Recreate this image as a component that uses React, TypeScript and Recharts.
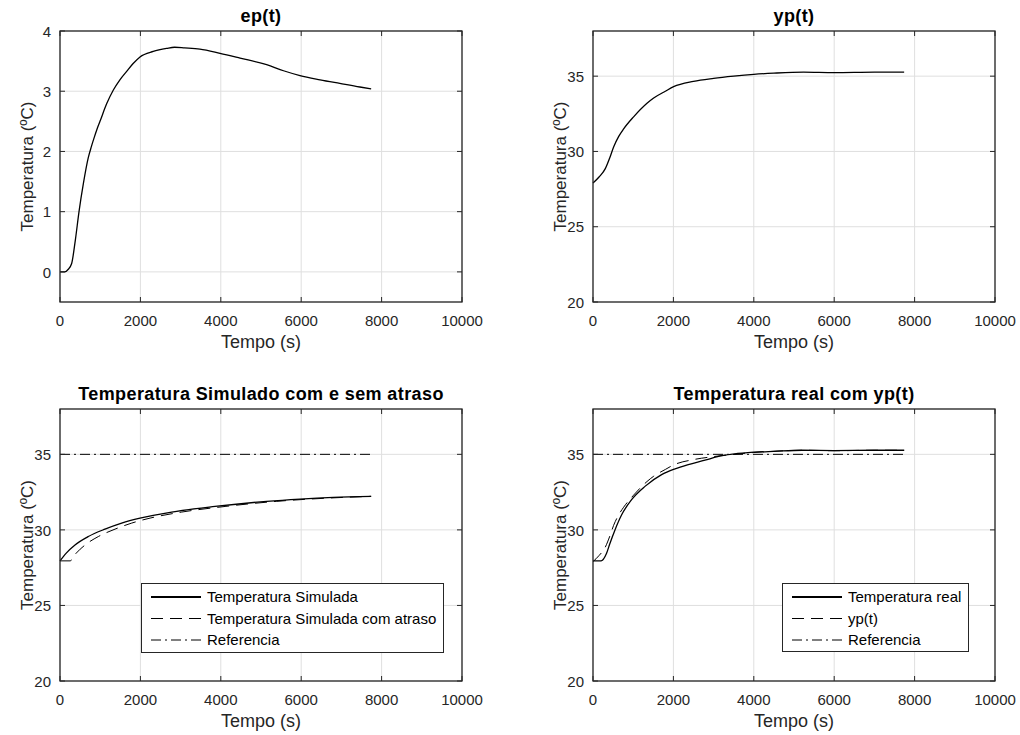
import React from 'react';
import { LineChart, Line, XAxis, YAxis, CartesianGrid, Legend } from 'recharts';

// eixos
const tickTempo = [0, 2000, 4000, 6000, 8000, 10000];
const tickEp = [0, 1, 2, 3, 4];
const tickTemp = [20, 25, 30, 35];

// ep(t)
const epTempo = [0, 120, 200, 290, 380, 473, 580, 705, 780, 850, 920, 995, 1160, 1327, 1490, 1658, 1820, 1990, 2320, 2650, 2850, 3100, 3480, 3980, 4480, 5140, 5560, 5970, 6470, 6960, 7460, 7740];
const epValor = [0, 0, 0.04, 0.14, 0.52, 1.0, 1.46, 1.9, 2.08, 2.23, 2.37, 2.5, 2.79, 3.02, 3.19, 3.33, 3.46, 3.57, 3.66, 3.71, 3.73, 3.72, 3.7, 3.63, 3.55, 3.44, 3.34, 3.26, 3.19, 3.13, 3.07, 3.04];

// yp(t)
const ypTempo = [0, 150, 306, 420, 513, 640, 762, 1010, 1343, 1509, 1800, 2006, 2500, 3000, 3500, 4000, 4500, 5240, 6000, 7000, 7740];
const ypValor = [27.9, 28.3, 28.86, 29.6, 30.3, 31.0, 31.5, 32.3, 33.2, 33.55, 34.0, 34.3, 34.65, 34.85, 35.0, 35.12, 35.2, 35.27, 35.24, 35.27, 35.27];

// temperatura simulada
const simTempo = [0, 150, 373, 704, 1119, 1534, 1990, 2778, 3856, 5141, 5970, 6799, 7740];
const simValor = [27.95, 28.45, 29.0, 29.56, 30.05, 30.45, 30.78, 31.18, 31.55, 31.89, 32.04, 32.15, 32.22];

// temperatura simulada com atraso
const atrasoTempo = [0, 250, 400, 623, 954, 1369, 1784, 2240, 3028, 4106, 5391, 6220, 7049, 7740];
const atrasoValor = [27.95, 27.95, 28.45, 29.0, 29.56, 30.05, 30.45, 30.78, 31.18, 31.55, 31.89, 32.04, 32.15, 32.22];

// temperatura real
const realTempo = [0, 200, 338, 423, 547, 713, 960, 1293, 1707, 2040, 2371, 2786, 3100, 3500, 4000, 4500, 5200, 6000, 7000, 7740];
const realValor = [27.95, 27.95, 28.46, 29.12, 30.0, 31.0, 32.0, 32.88, 33.66, 34.04, 34.32, 34.61, 34.85, 35.02, 35.14, 35.2, 35.27, 35.25, 35.27, 35.27];

// referencia
const refTempo = [0, 7740];
const refValor = [35, 35];

const FONT = '"Liberation Sans", Arial, Helvetica, sans-serif';
const AXIS = '#262626';
const GRID = '#dfdfdf';
const TRACO = '12 7';
const TRACO_PONTO = '10 4 2 4';
const TICK = 5;

const pares = (t: number[], v: number[]) => t.map((x, i) => ({ t: x, v: v[i] }));

type Serie = { name: string; data: { t: number; v: number }[]; dash?: string; linear?: boolean };

// tick do eixo x: rotulo + marcas para dentro em baixo e em cima
const XTick = ({ x, y, payload, plotH }: any) => (
  <g>
    <line x1={x} x2={x} y1={y} y2={y - TICK} stroke={AXIS} />
    <line x1={x} x2={x} y1={y - plotH} y2={y - plotH + TICK} stroke={AXIS} />
    <text x={x} y={y + 24} textAnchor="middle" fontSize={15} fill={AXIS}>{payload.value}</text>
  </g>
);

const YTick = ({ x, y, payload, plotW }: any) => (
  <g>
    <line x1={x} x2={x + TICK} y1={y} y2={y} stroke={AXIS} />
    <line x1={x + plotW} x2={x + plotW - TICK} y1={y} y2={y} stroke={AXIS} />
    <text x={x - 9} y={y} dy="0.38em" textAnchor="end" fontSize={15} fill={AXIS}>{payload.value}</text>
  </g>
);

// rotulo y + titulo + moldura
const Moldura = ({ viewBox, plotW, title }: any) => {
  const px = viewBox.x + viewBox.width;
  const lx = px - 27;
  const ly = viewBox.y + viewBox.height / 2;
  return (
    <g>
      <rect x={px} y={viewBox.y} width={plotW} height={viewBox.height} fill="none" stroke={AXIS} strokeWidth={1.3} />
      <text x={lx} y={ly} transform={`rotate(-90 ${lx} ${ly})`} textAnchor="middle" fontSize={17} fill={AXIS}>
        Temperatura (ºC)
      </text>
      <text x={px + plotW / 2} y={viewBox.y - 9} textAnchor="middle" fontSize={18} fontWeight="bold" letterSpacing={0.4} fill="#000">
        {title}
      </text>
    </g>
  );
};

const XLabel = (props: any) => {
  const vb = props.viewBox || props;
  return (
    <text x={vb.x + vb.width / 2} y={vb.y + 46} textAnchor="middle" fontSize={18} fill={AXIS}>
      Tempo (s)
    </text>
  );
};

const LegendBox = ({ series, width, height }: { series: Serie[]; width: number; height: number }) => (
  <svg width={width} height={height} style={{ display: 'block' }}>
    <rect x={0.5} y={0.5} width={width - 1} height={height - 1} fill="#fff" stroke={AXIS} />
    {series.map((s, i) => {
      const y = 14 + i * 21.5;
      return (
        <g key={s.name}>
          <line x1={10} x2={60} y1={y} y2={y} stroke="#000" strokeWidth={s.dash ? 1 : 2} strokeDasharray={s.dash} />
          <text x={66} y={y} dy="0.35em" fontSize={15} fill="#000">{s.name}</text>
        </g>
      );
    })}
  </svg>
);

interface PainelProps {
  left: number;
  top: number;
  width: number;
  height: number;
  plotLeft: number;
  plotRight: number;
  plotTop: number;
  plotBottom: number;
  title: string;
  yDomain: number[];
  yTicks: number[];
  series: Serie[];
  legend?: { left: number; top: number; width: number; height: number };
}

const Painel = (p: PainelProps) => {
  const axisH = 50;
  const plotW = p.plotRight - p.plotLeft;
  const plotH = p.plotBottom - p.plotTop;
  const margin = { top: p.plotTop, left: 0, right: p.width - p.plotRight, bottom: p.height - p.plotBottom - axisH };
  return (
    <div style={{ position: 'absolute', left: p.left, top: p.top }}>
      <LineChart width={p.width} height={p.height} margin={margin}>
        <CartesianGrid stroke={GRID} strokeWidth={1} />
        <XAxis
          type="number"
          dataKey="t"
          domain={[0, 10000]}
          ticks={tickTempo}
          interval={0}
          height={axisH}
          tickSize={0}
          tickMargin={0}
          axisLine={false}
          tickLine={false}
          tick={(tp: any) => <XTick {...tp} plotH={plotH} />}
          label={{ content: (lp: any) => <XLabel {...lp} /> }}
        />
        <YAxis
          type="number"
          domain={p.yDomain}
          ticks={p.yTicks}
          interval={0}
          width={p.plotLeft}
          tickSize={0}
          tickMargin={0}
          axisLine={false}
          tickLine={false}
          tick={(tp: any) => <YTick {...tp} plotW={plotW} />}
          label={{ content: (lp: any) => <Moldura viewBox={lp.viewBox || lp} plotW={plotW} title={p.title} /> }}
        />
        {p.series.map((s) => (
          <Line
            key={s.name}
            name={s.name}
            data={s.data}
            dataKey="v"
            type={s.linear ? 'linear' : 'monotone'}
            stroke="#000"
            strokeWidth={s.dash ? 1 : 1.3}
            strokeDasharray={s.dash}
            dot={false}
            isAnimationActive={false}
          />
        ))}
        {p.legend && (
          <Legend
            layout="vertical"
            align="center"
            verticalAlign="middle"
            wrapperStyle={{ left: p.legend.left, top: p.legend.top, width: p.legend.width, height: p.legend.height }}
            content={() => <LegendBox series={p.series} width={p.legend!.width} height={p.legend!.height} />}
          />
        )}
      </LineChart>
    </div>
  );
};

export default function App() {
  const ep: Serie[] = [{ name: 'ep(t)', data: pares(epTempo, epValor) }];
  const yp: Serie[] = [{ name: 'yp(t)', data: pares(ypTempo, ypValor) }];
  const simulado: Serie[] = [
    { name: 'Temperatura Simulada', data: pares(simTempo, simValor) },
    { name: 'Temperatura Simulada com atraso', data: pares(atrasoTempo, atrasoValor), dash: TRACO },
    { name: 'Referencia', data: pares(refTempo, refValor), dash: TRACO_PONTO, linear: true },
  ];
  const real: Serie[] = [
    { name: 'Temperatura real', data: pares(realTempo, realValor) },
    { name: 'yp(t)', data: pares(ypTempo, ypValor), dash: TRACO },
    { name: 'Referencia', data: pares(refTempo, refValor), dash: TRACO_PONTO, linear: true },
  ];

  return (
    <div style={{ position: 'absolute', left: 0, top: 0, width: 1020, height: 735, background: '#fff', fontFamily: FONT }}>
      <Painel left={0} top={0} width={510} height={367} plotLeft={60} plotRight={462} plotTop={31} plotBottom={302}
        title="ep(t)" yDomain={[-0.5, 4]} yTicks={tickEp} series={ep} />
      <Painel left={510} top={0} width={510} height={367} plotLeft={83} plotRight={485} plotTop={31} plotBottom={302}
        title="yp(t)" yDomain={[20, 38]} yTicks={tickTemp} series={yp} />
      <Painel left={0} top={367} width={510} height={368} plotLeft={60} plotRight={462} plotTop={42} plotBottom={314}
        title="Temperatura Simulado com e sem atraso" yDomain={[20, 38]} yTicks={tickTemp} series={simulado}
        legend={{ left: 141, top: 216, width: 303, height: 70 }} />
      <Painel left={510} top={367} width={510} height={368} plotLeft={83} plotRight={485} plotTop={42} plotBottom={314}
        title="Temperatura real com yp(t)" yDomain={[20, 38]} yTicks={tickTemp} series={real}
        legend={{ left: 272, top: 216, width: 187, height: 69 }} />
    </div>
  );
}
